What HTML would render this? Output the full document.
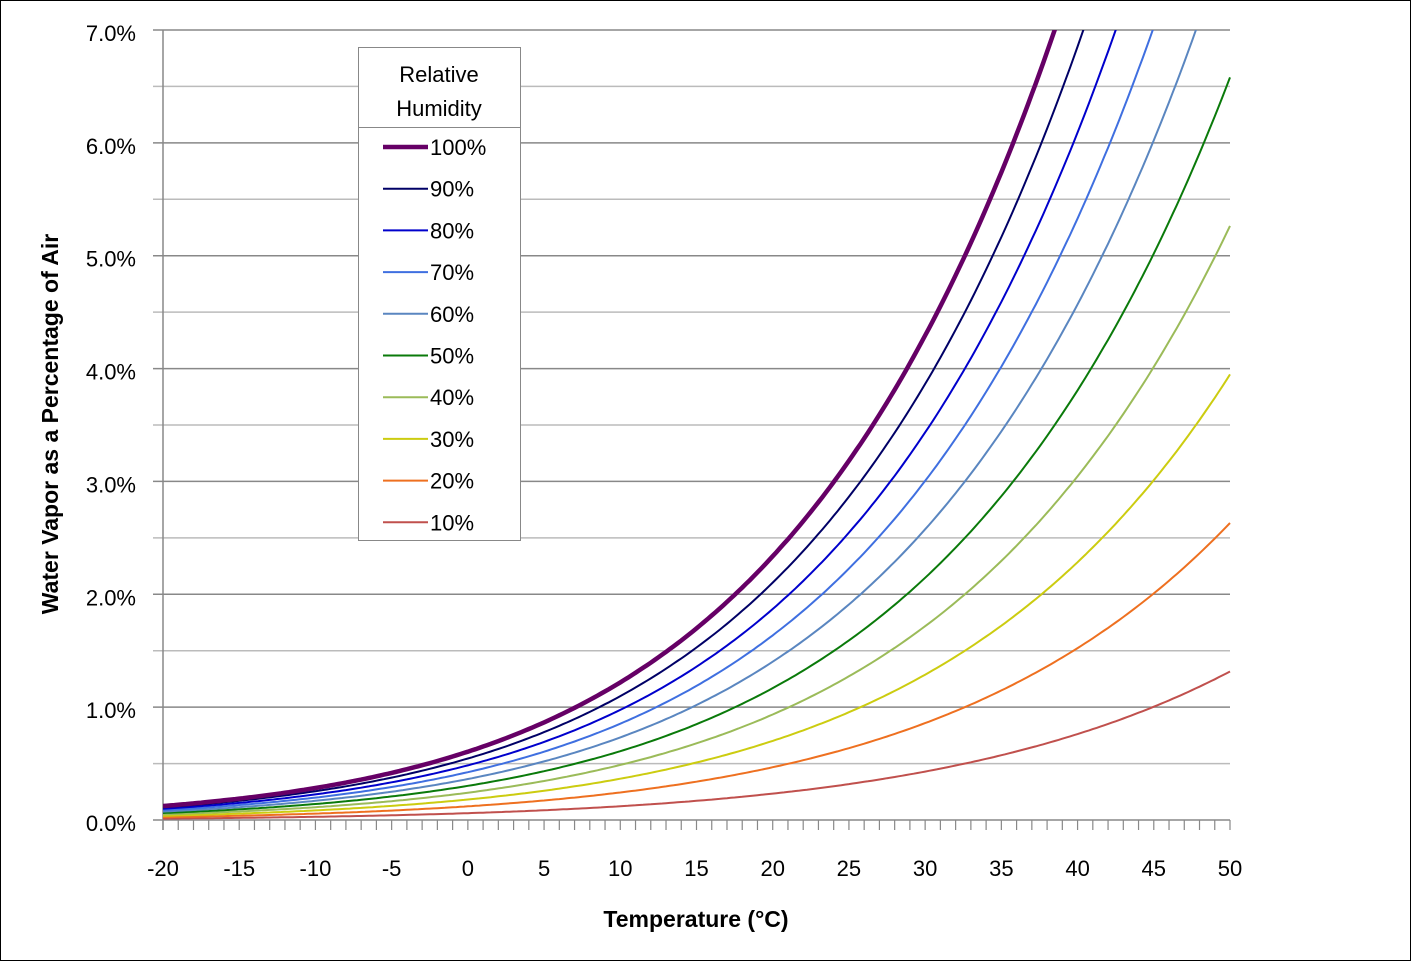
<!DOCTYPE html>
<html><head><meta charset="utf-8"><style>
html,body{margin:0;padding:0;background:#fff}
svg{display:block}
text{font-family:"Liberation Sans",sans-serif}
</style></head><body>
<svg id="s" width="1411" height="961" xmlns="http://www.w3.org/2000/svg">
<rect x="0.5" y="0.5" width="1410" height="960" fill="#fff" stroke="#000"/>
<defs><clipPath id="c"><rect x="163" y="30" width="1068" height="792"/></clipPath></defs>
<g id="grid"></g>
<g id="curves" clip-path="url(#c)"></g>
<g id="legend"></g>
<text x="1" y="0" transform="translate(58,425) rotate(-90)" text-anchor="middle" font-size="23" font-weight="bold">Water Vapor as a Percentage of Air</text>
<text x="696" y="927" text-anchor="middle" font-size="23" font-weight="bold">Temperature (°C)</text>
</svg>
<script>
var NS="http://www.w3.org/2000/svg";
function el(p,t,a,txt){var e=document.createElementNS(NS,t);for(var k in a)e.setAttribute(k,a[k]);if(txt!=null)e.textContent=txt;p.appendChild(e);return e;}
var X=function(t){return 163+(t+20)*1067/70;};
var Y=function(v){return 820-v*112.857;};
var g=document.getElementById('grid');
for(var i=0;i<=14;i++){var y=Y(i*0.5);el(g,'line',{x1:153,x2:1230,y1:y,y2:y,stroke:i%2?'#bbb':'#888','stroke-width':1.5});}
for(var i=0;i<=7;i++){el(g,'text',{x:136,y:Y(i)+11,'text-anchor':'end','font-size':22},i.toFixed(1)+'%');}
el(g,'line',{x1:163,x2:163,y1:30,y2:830,stroke:'#888','stroke-width':1.5});
for(var t=-20;t<=50;t++){var x=X(t);el(g,'line',{x1:x,x2:x,y1:820,y2:830,stroke:'#888','stroke-width':1.2});}
for(var t=-20;t<=50;t+=5){el(g,'text',{x:X(t),y:876,'text-anchor':'middle','font-size':22},String(t));}
function f(T){var e=0.6112*Math.exp(17.67*T/(T+243.5));return e/(101.325-0.571*e)*100;}
var ser=[[100,'#660066',4.5],[90,'#000066',2],[80,'#0000cc',2],[70,'#3f6fe0',2],[60,'#5a86c0',2],[50,'#0a7a0a',2],[40,'#9bbb59',2],[30,'#cccc10',2],[20,'#ee7020',2],[10,'#c0504d',2]];
var cg=document.getElementById('curves');
ser.slice().reverse().forEach(function(s){var d='';for(var T=-20;T<=50.001;T+=0.25){d+=(d?'L':'M')+X(T).toFixed(1)+','+Y(f(T)*s[0]/100).toFixed(1);}el(cg,'path',{d:d,fill:'none',stroke:s[1],'stroke-width':s[2]});});
var lg=document.getElementById('legend');
el(lg,'rect',{x:358.5,y:47.5,width:162,height:493,fill:'#fff',stroke:'#888'});
el(lg,'line',{x1:358,x2:521,y1:127.5,y2:127.5,stroke:'#888'});
el(lg,'text',{x:439,y:82,'text-anchor':'middle','font-size':22},'Relative');
el(lg,'text',{x:439,y:116,'text-anchor':'middle','font-size':22},'Humidity');
ser.forEach(function(s,i){var y=147+i*41.7;el(lg,'line',{x1:383,x2:428,y1:y,y2:y,stroke:s[1],'stroke-width':s[2]});el(lg,'text',{x:430,y:y+8,'font-size':22},s[0]+'%');});
</script>
</body></html>
